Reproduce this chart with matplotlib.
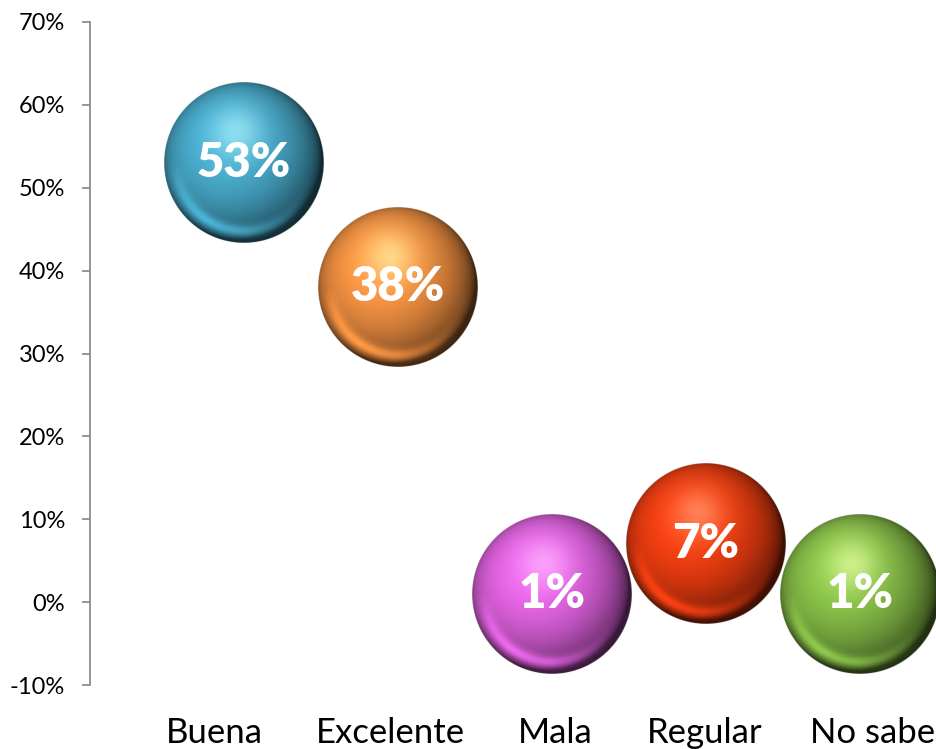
import numpy as np
import matplotlib
matplotlib.use("Agg")
import matplotlib.pyplot as plt
from matplotlib.colors import to_rgb

# Survey results
categories = ["Buena", "Excelente", "Mala", "Regular", "No sabe"]
x_values = [1, 2, 3, 4, 5]
percentages = [53, 38, 1, 7, 1]
label_x = [0.81, 1.95, 3.02, 3.99, 5.08]
y_ticks = [-10, 0, 10, 20, 30, 40, 50, 60, 70]
base_colors = ["#46a6c6", "#ee8e40", "#dc60dc", "#ea3c10", "#84ba46"]
highlight_colors = ["#a8f0fa", "#fff0a0", "#ffb5ff", "#ff9a70", "#e4ffa0"]

FONT = "Lato"
W, H, DPI = 936, 749, 100
fig = plt.figure(figsize=(W / DPI, H / DPI), dpi=DPI)
ax = fig.add_axes([90 / W, 64 / H, (W - 90) / W, (727 - 64) / H])
ax.set_xlim(0, 846 / 154)
ax.set_ylim(-10, 70)

for s in ("top", "right", "bottom"):
    ax.spines[s].set_visible(False)
ax.spines["left"].set_color("#8c8c8c")
ax.spines["left"].set_linewidth(1.3)
ax.set_xticks([])
ax.set_yticks(y_ticks)
ax.set_yticklabels([f"{v}%" for v in y_ticks], fontfamily=FONT, fontsize=17)
ax.tick_params(axis="y", length=6, width=1.3, color="#8c8c8c", pad=12)


def sphere_image(base, light, n=320):
    base = np.array(to_rgb(base))
    light = np.array(to_rgb(light))
    lin = np.linspace(-1, 1, n)
    xx, yy = np.meshgrid(lin, -lin)  # yy positive upward
    rr = np.sqrt(xx ** 2 + yy ** 2)
    zz = np.sqrt(np.clip(1 - rr ** 2, 0, 1))
    L = np.array([-0.25, 0.3, 0.92])
    L = L / np.linalg.norm(L)
    diff = np.clip(xx * L[0] + yy * L[1] + zz * L[2], 0, 1)
    shade = 0.25 + 0.85 * diff ** 0.8
    img = base[None, None, :] * shade[..., None]
    # soft highlight spot
    spot = np.exp(-(((xx + 0.1) ** 2 + (yy - 0.38) ** 2) / 0.10))
    img = img * (1 - 0.7 * spot[..., None]) + light[None, None, :] * 0.7 * spot[..., None]
    # reflected light near the lower rim
    rim = np.exp(-((rr - 0.86) ** 2) / 0.006) * np.clip(-yy * 1.4, 0, 1) * np.clip(1 - xx, 0, 1)
    img = img + (base * 0.45)[None, None, :] * rim[..., None]
    img = np.clip(img, 0, 1)
    px = 2.0 / n
    alpha = np.clip((1 - rr) / px + 0.5, 0, 1)
    return np.dstack([img, alpha])


fig.canvas.draw()
radius_px = 80
inv = ax.transData.inverted()
for xv, pv, bc, hc in zip(x_values, percentages, base_colors, highlight_colors):
    cx, cy = ax.transData.transform((xv, pv))
    x0, y0 = inv.transform((cx - radius_px, cy - radius_px))
    x1, y1 = inv.transform((cx + radius_px, cy + radius_px))
    ax.imshow(sphere_image(bc, hc), extent=(x0, x1, y0, y1), origin="upper",
              interpolation="antialiased", zorder=3, clip_on=False)
    ax.text(xv, pv, f"{pv}%", ha="center", va="center", color="white",
            fontfamily=FONT, fontweight="heavy", fontsize=34, zorder=4)

ax.set_aspect("auto")
ax.set_xlim(0, 846 / 154)
ax.set_ylim(-10, 70)

for lx, name in zip(label_x, categories):
    px, _ = ax.transData.transform((lx, 0))
    fig.text(px / W, 6 / H, name, ha="center", va="baseline",
             fontfamily=FONT, fontsize=25, color="black")

fig.savefig("out.png", dpi=DPI)
